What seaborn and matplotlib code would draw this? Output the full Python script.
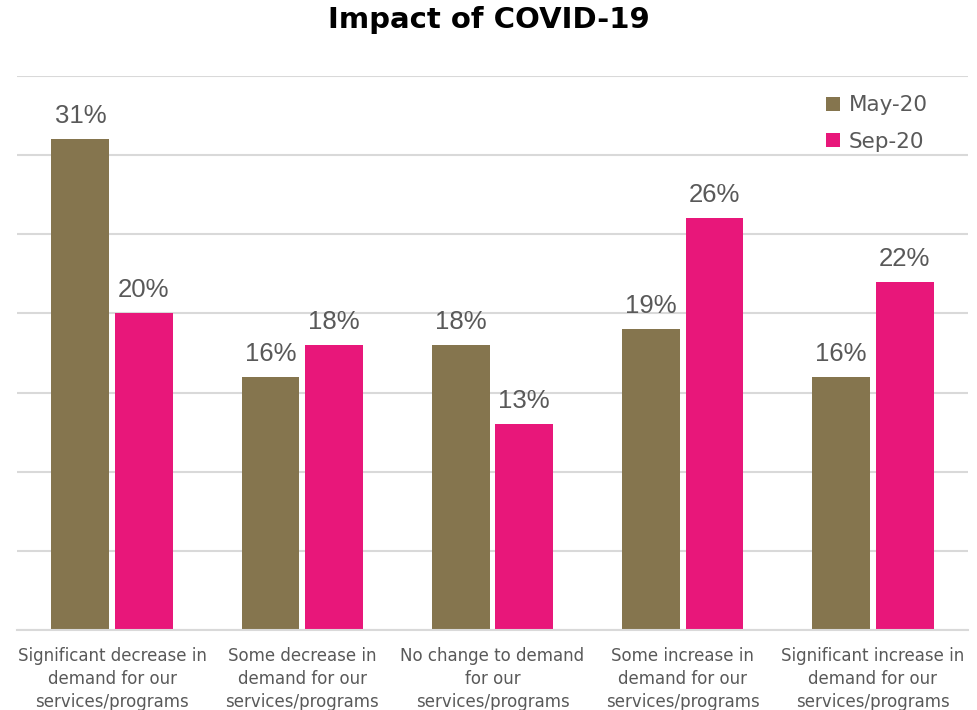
import matplotlib
matplotlib.use("Agg")
import matplotlib.pyplot as plt
import seaborn as sns
import pandas as pd

categories = [
    "Significant decrease in\ndemand for our\nservices/programs",
    "Some decrease in\ndemand for our\nservices/programs",
    "No change to demand\nfor our\nservices/programs",
    "Some increase in\ndemand for our\nservices/programs",
    "Significant increase in\ndemand for our\nservices/programs",
]
series_names = ["May-20", "Sep-20"]
may_20 = [0.31, 0.16, 0.18, 0.19, 0.16]
sep_20 = [0.20, 0.18, 0.13, 0.26, 0.22]
colors = ["#85754E", "#E8177A"]

df = pd.DataFrame({
    "category": categories * 2,
    "period": [series_names[0]] * len(categories) + [series_names[1]] * len(categories),
    "share": may_20 + sep_20,
})

sns.set_theme(style="white")
plt.rcParams["font.family"] = ["DejaVu Sans"]
text_gray = "#595959"

fig = plt.figure(figsize=(9.78, 7.10), dpi=100)
ax = fig.add_axes([17 / 978, 80 / 710, 951 / 978, 554 / 710])

sns.barplot(data=df, x="category", y="share", hue="period", order=categories,
            hue_order=series_names, palette=colors, width=0.668, gap=0.09,
            saturation=1, ax=ax, legend=True, edgecolor="none")

ax.set_ylim(0, 0.35)
ax.set_xlim(-0.5, len(categories) - 0.5)
ax.set_yticks([i * 0.05 for i in range(8)])
ax.yaxis.grid(True, color="#D9D9D9", linewidth=1.5)
ax.set_axisbelow(True)
ax.tick_params(axis="y", left=False, labelleft=False)
ax.tick_params(axis="x", bottom=False, pad=6)
ax.set_xlabel("")
ax.set_ylabel("")
for s in ["left", "right", "top"]:
    ax.spines[s].set_visible(False)
ax.spines["bottom"].set_color("#D9D9D9")
ax.spines["bottom"].set_linewidth(1.5)

for lbl in ax.get_xticklabels():
    lbl.set_fontsize(12)
    lbl.set_color(text_gray)
    lbl.set_linespacing(1.38)

for container in ax.containers:
    ax.bar_label(container, labels=[f"{v * 100:.0f}%" for v in container.datavalues],
                 padding=8, fontsize=18.5, color=text_gray, family="Liberation Sans")

leg = ax.legend(loc="upper right", frameon=False, fontsize=15.5,
                bbox_to_anchor=(0.978, 1.0), handlelength=0.65, handleheight=0.65,
                handletextpad=0.4, labelspacing=0.75, labelcolor=text_gray)

fig.text(0.5, 1 - 20 / 710, "Impact of COVID-19", ha="center", va="center",
         fontsize=21, fontweight="bold", color="black")

fig.savefig("out.png", dpi=100)
